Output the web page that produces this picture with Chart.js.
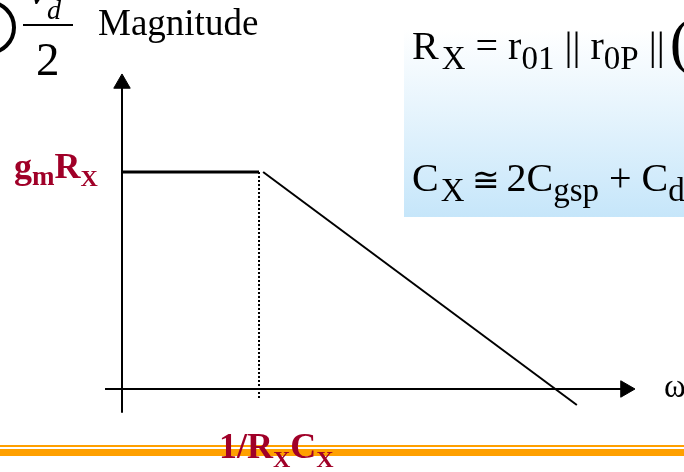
<!DOCTYPE html>
<html>
<head>
<meta charset="utf-8">
<script src="https://cdn.jsdelivr.net/npm/chart.js@4.4.1/dist/chart.umd.min.js"></script>
<style>
  html, body { margin: 0; padding: 0; background: #fff; overflow: hidden; }
  #wrap { position: relative; width: 684px; height: 472px; overflow: hidden; font-family: "Liberation Serif", "Times New Roman", serif; }
  #bode { position: absolute; left: 0; top: 0; z-index: 1; }
  .eqbox { position: absolute; left: 404px; top: 13px; width: 300px; height: 204px;
           background: linear-gradient(to bottom, #ffffff 8%, #c6e6fa 100%); z-index: 0; }
  .txt { position: absolute; white-space: nowrap; line-height: 1; z-index: 2; color: #000; }
  .red { color: #a00028; font-weight: bold; }
  .sub { position: relative; line-height: 0; }
  .rule { position: absolute; left: 0; width: 684px; background: #ffa000; z-index: 1; }
  .ring { position: absolute; left: -39px; top: 0px; width: 47px; height: 47px; border: 4px solid #000; border-radius: 50%; z-index: 2; }
  .bar { position: absolute; left: 23px; top: 24px; width: 50px; height: 2px; background: #000; z-index: 2; }
</style>
</head>
<body>
<div id="wrap">
  <div class="eqbox"></div>
  <canvas id="bode" width="684" height="472"></canvas>

  <div class="ring"></div>
  <div class="txt" style="left:28px; top:-34px; font-size:46px; font-style:italic;">v</div>
  <div class="txt" style="left:47px; top:-4px; font-size:28px; font-style:italic;">d</div>
  <div class="bar"></div>
  <div class="txt" style="left:36px; top:36px; font-size:47px;">2</div>
  <div class="txt" style="left:98px; top:4px; font-size:37px;">Magnitude</div>

  <div class="txt" style="left:412px; top:26px; font-size:40px;">R<span class="sub" style="font-size:33px; top:10px; margin-left:3px;">X</span> = r<span class="sub" style="font-size:33px; top:10px;">01</span> || r<span class="sub" style="font-size:33px; top:10px;">0P</span> || <span class="sub" style="font-size:62px; top:3px; margin-left:-5px;">(</span>1</div>
  <div class="txt" style="left:412px; top:158px; font-size:40px;">C<span class="sub" style="font-size:33px; top:10px; margin-left:2px;">X</span> <span style="font-size:33px; margin:0 -3px;">≅</span> 2C<span class="sub" style="font-size:33px; top:10px;">gsp</span> + C<span class="sub" style="font-size:33px; top:10px;">d</span></div>

  <div class="txt red" style="left:14px; top:148px; font-size:36px;">g<span class="sub" style="font-size:27px; top:7px;">m</span>R<span class="sub" style="font-size:24px; top:8px;">X</span></div>

  <div class="rule" style="top:445px; height:2px;"></div>
  <div class="rule" style="top:449px; height:7px;"></div>
  <div class="txt red" style="left:219px; top:428px; font-size:36px; z-index:3;">1/R<span class="sub" style="font-size:24px; top:9px;">X</span>C<span class="sub" style="font-size:24px; top:9px;">X</span></div>

  <div class="txt" style="left:664px; top:370px; font-size:33px;">ω</div>
</div>

<script>
//
// ===== DATA =====
//

// frequency in units of the corner 1/RxCx, magnitude in units of gmRx
const flatOmega = [0, 1];
const flatGain = [1, 1];

const rollOmega = [1.03, 3.32];
const rollGain = [1, -0.074];

const cornerOmega = [1, 1];
const cornerGain = [1, -0.05];

const xAxisOmega = [-0.124, 3.675];
const yAxisGain = [-0.11, 1.408];

function toPoints(xs, ys) {
  return xs.map((x, i) => ({ x, y: ys[i] }));
}

function lineSet(data, width, dash) {
  return {
    data,
    showLine: true,
    borderColor: "#000",
    borderWidth: width,
    borderDash: dash || [],
    pointRadius: 0,
    tension: 0,
    clip: false
  };
}

function arrowSet(point, rotation) {
  return {
    data: [point],
    showLine: false,
    pointStyle: "triangle",
    pointRadius: 9.5,
    pointRotation: rotation,
    pointBackgroundColor: "#000",
    pointBorderColor: "#000",
    pointBorderWidth: 1,
    clip: false
  };
}

//
// ===== CHART =====
//

const ctx = document.getElementById("bode");

new Chart(ctx, {
  type: "scatter",
  data: {
    datasets: [
      lineSet(toPoints(xAxisOmega, [0, 0]), 2),
      lineSet(toPoints([0, 0], yAxisGain), 2),
      arrowSet({ x: xAxisOmega[1], y: 0 }, 90),
      arrowSet({ x: 0, y: yAxisGain[1] }, 0),
      lineSet(toPoints(cornerOmega, cornerGain), 2, [2, 2]),
      lineSet(toPoints(flatOmega, flatGain), 3),
      lineSet(toPoints(rollOmega, rollGain), 2)
    ]
  },
  options: {
    responsive: false,
    animation: false,
    layout: { padding: 0, autoPadding: false },
    plugins: {
      legend: { display: false },
      tooltip: { enabled: false }
    },
    scales: {
      x: { type: "linear", min: -0.8905, max: 4.102, display: false },
      y: { type: "linear", min: -0.3825, max: 1.7926, display: false }
    }
  }
});
</script>
</body>
</html>
